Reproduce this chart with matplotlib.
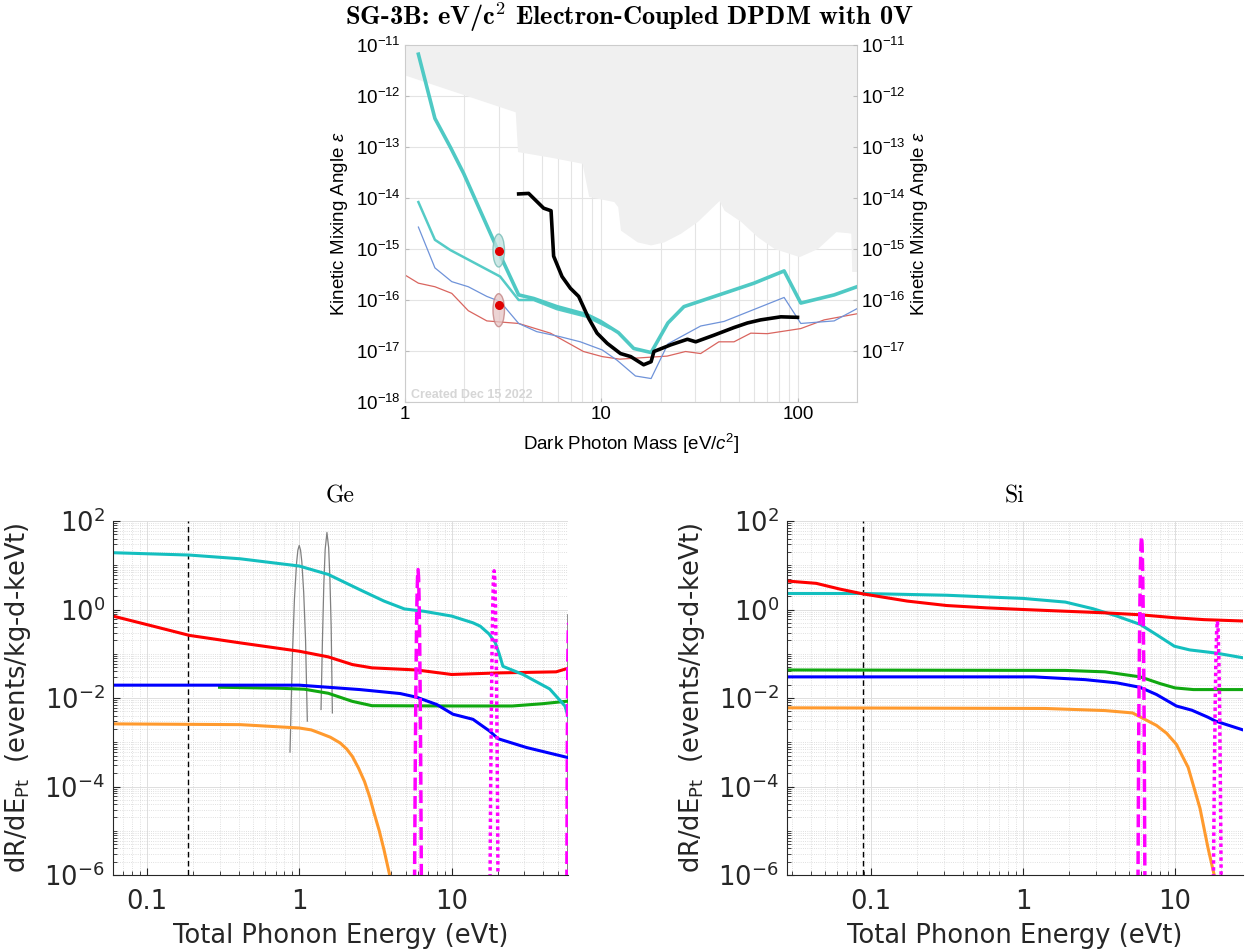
import numpy as np
import matplotlib
matplotlib.use("Agg")
import matplotlib.pyplot as plt
from matplotlib import ticker, transforms
from matplotlib.patches import Ellipse

plt.rcParams['mathtext.fontset'] = 'dejavusans'
plt.rcParams['mathtext.rm'] = 'Liberation Sans'
plt.rcParams['mathtext.it'] = 'Liberation Sans:italic'
plt.rcParams['mathtext.bf'] = 'Liberation Sans:bold'

# ---------------- top panel: limits on kinetic mixing (log10 of epsilon) ----------------
excl_mass = [1.0, 3.64, 3.74, 5.5, 7.97, 8.61, 11.56, 12.1, 12.5, 15.2, 17.8, 20.8, 25.3, 30.8,
             39.7, 42.1, 51.2, 62.2, 75.7, 101.6, 125.9, 156, 179, 186, 188, 201]
excl_log = [-11.59, -12.31, -13.09, -13.2, -13.32, -13.97, -14.07, -14.17, -14.63, -14.86, -14.92,
            -14.86, -14.69, -14.46, -14.05, -14.24, -14.46, -14.76, -14.99, -15.15, -14.99, -14.66,
            -14.68, -14.69, -15.44, -15.44]

teal_mass = [1.17, 1.42, 1.70, 1.99, 2.41, 3.0, 3.79, 4.52, 5.94, 8.45, 9.9, 12.2, 14.6, 17.9,
             21.8, 26.3, 35, 45, 59.8, 85.1, 103.5, 153, 200]
teal_log = [-11.18, -12.44, -13.0, -13.52, -14.24, -15.06, -15.9, -15.97, -16.13, -16.29, -16.42,
            -16.64, -16.95, -17.03, -16.45, -16.13, -15.97, -15.83, -15.67, -15.43, -16.06, -15.9, -15.74]

teal2_mass = [1.17, 1.42, 1.70, 3.05, 3.79, 4.52, 5.94, 8.45, 11.0]
teal2_log = [-14.08, -14.82, -15.02, -15.54, -16.0, -16.0, -16.18, -16.33, -16.55]

blue_mass = [1.17, 1.42, 1.73, 2.10, 2.61, 3.05, 3.79, 4.68, 6.17, 7.81, 10.1, 12.0, 14.9, 17.9,
             21.8, 32.0, 42.1, 85.1, 103.5, 153, 200]
blue_log = [-14.57, -15.37, -15.64, -15.74, -15.93, -16.03, -16.46, -16.62, -16.72, -16.82, -16.98,
            -17.18, -17.49, -17.54, -16.86, -16.51, -16.42, -15.95, -16.46, -16.41, -16.17]

red_mass = [1.0, 1.17, 1.42, 1.73, 2.10, 2.61, 3.79, 5.5, 8.1, 10.1, 12.4, 21.6, 26.8, 32, 39.6,
            47.3, 57.6, 70, 103.5, 136, 200]
red_log = [-15.51, -15.67, -15.74, -15.87, -16.21, -16.41, -16.46, -16.65, -17.01, -17.11, -17.16,
           -17.10, -17.01, -17.05, -16.82, -16.82, -16.65, -16.66, -16.56, -16.39, -16.27]

black_mass = [3.79, 4.26, 5.08, 5.54, 5.71, 6.3, 6.95, 7.66, 8.61, 9.5, 10.7, 12.5, 14.1, 16.4,
              17.9, 18.5, 22.5, 27.4, 30.2, 37.4, 47.3, 55.4, 64.6, 81.9, 99.6]
black_log = [-13.92, -13.91, -14.2, -14.25, -15.14, -15.54, -15.77, -15.93, -16.36, -16.65, -16.85,
             -17.05, -17.11, -17.27, -17.21, -17.01, -16.88, -16.77, -16.82, -16.69, -16.54, -16.45,
             -16.39, -16.33, -16.34]

dot_mass = [3.0, 3.0]
dot_log = [-15.03, -16.1]
ellipse_log = [-15.03, -16.2]

top_ticks = [1e-18, 1e-17, 1e-16, 1e-15, 1e-14, 1e-13, 1e-12, 1e-11]
top_ticklabels = [r'$10^{-18}$', r'$10^{-17}$', r'$10^{-16}$', r'$10^{-15}$',
                  r'$10^{-14}$', r'$10^{-13}$', r'$10^{-12}$', r'$10^{-11}$']

# ---------------- bottom panels: rate spectra ----------------
ge_cyan_x = [0.06, 0.19, 0.41, 1.0, 1.55, 2.5, 3.6, 4.9, 6.6, 10, 13.8, 15.4, 17.6, 19.3, 20.5,
             21.7, 29.4, 44, 55.4, 58]
ge_cyan_y = [19.2, 17, 14, 9.6, 6.2, 2.8, 1.55, 1.03, 0.91, 0.71, 0.5, 0.42, 0.28, 0.18, 0.1,
             0.052, 0.034, 0.016, 0.0066, 0.0039]
ge_red_x = [0.06, 0.11, 0.19, 0.41, 1.0, 1.55, 2.23, 3.0, 5.9, 10, 21, 48.5, 58]
ge_red_y = [0.71, 0.42, 0.26, 0.176, 0.114, 0.085, 0.057, 0.048, 0.043, 0.034, 0.037, 0.039, 0.047]
ge_blue_x = [0.06, 1.0, 2.5, 4.6, 5.9, 8.0, 10.2, 13.8, 17.7, 20.2, 31, 58]
ge_blue_y = [0.0195, 0.0195, 0.0155, 0.0126, 0.0104, 0.0071, 0.0043, 0.0033, 0.0018, 0.0012,
             0.00076, 0.00045]
ge_green_x = [0.3, 0.75, 1.08, 1.55, 2.23, 3.0, 10, 25, 39, 58]
ge_green_y = [0.0175, 0.0166, 0.0158, 0.0128, 0.0084, 0.0067, 0.0066, 0.0066, 0.0074, 0.0085]
ge_orange_x = [0.06, 0.41, 1.0, 1.2, 1.37, 1.6, 1.86, 2.05, 2.23, 2.45, 2.68, 2.9, 3.1, 3.35,
               3.6, 3.92, 4.1]
ge_orange_y = [0.0026, 0.0025, 0.0021, 0.0019, 0.0016, 0.0013, 0.00096, 0.0007, 4.8e-4, 2.6e-4,
               1.3e-4, 5.8e-5, 2.5e-5, 1e-5, 3.7e-6, 1e-6, 6e-7]
ge_gray1_x = [0.87, 0.90, 0.93, 0.96, 0.98, 1.0, 1.02, 1.04, 1.07, 1.10, 1.13]
ge_gray1_y = [6e-4, 0.072, 1.7, 11, 22, 28, 22, 12, 2.4, 0.21, 0.003]
ge_gray2_x = [1.39, 1.42, 1.45, 1.48, 1.52, 1.56, 1.59, 1.62, 1.65]
ge_gray2_y = [0.0055, 0.2, 3.7, 23, 55, 25, 4.8, 0.42, 0.0046]
ge_gray3_x = [57.7, 57.8]
ge_gray3_y = [1e-7, 0.76]
ge_dash_x = [5.69, 5.77, 5.82, 5.87, 5.92, 5.97, 6.02, 6.07, 6.12, 6.17, 6.22, 6.27, 6.35]
ge_dash_y = [1e-7, 2.6e-4, 0.0105, 0.19, 1.5, 5.2, 8, 5.2, 1.5, 0.19, 0.0105, 2.6e-4, 1e-7]
ge_dot_x = [17.8, 18.0, 18.2, 18.4, 18.6, 18.8, 19.0, 19.2, 19.4, 19.6, 19.8, 20.0, 20.2]
ge_dot_y = [1e-7, 4.8e-5, 0.0036, 0.105, 1.16, 4.9, 7.5, 4.9, 1.16, 0.105, 0.0036, 4.8e-5, 1e-7]
ge_edge_x = [56.9, 57.4, 57.8, 58.2, 58.6]
ge_edge_y = [1e-7, 1e-3, 0.06, 0.33, 0.5]
ge_threshold = 0.186

si_red_x = [0.028, 0.0436, 0.0622, 0.088, 0.173, 0.314, 0.573, 1.0, 3.46, 5.9, 10, 15.5, 28]
si_red_y = [4.4, 3.9, 2.9, 2.26, 1.55, 1.23, 1.09, 1.0, 0.84, 0.76, 0.65, 0.59, 0.55]
si_cyan_x = [0.028, 0.088, 0.314, 1.0, 1.9, 2.89, 4.14, 5.9, 7.55, 9.9, 12.5, 18.5, 28]
si_cyan_y = [2.3, 2.3, 2.1, 1.78, 1.47, 1.04, 0.71, 0.46, 0.27, 0.148, 0.122, 0.104, 0.081]
si_green_x = [0.028, 1.9, 3.46, 5.9, 8.0, 10, 13.2, 28]
si_green_y = [0.043, 0.042, 0.039, 0.030, 0.0211, 0.0169, 0.0155, 0.0155]
si_blue_x = [0.028, 1.18, 2.56, 4.14, 5.9, 7.55, 10.2, 12.9, 16.4, 18.5, 28]
si_blue_y = [0.030, 0.030, 0.026, 0.022, 0.0174, 0.012, 0.0066, 0.0053, 0.0037, 0.003, 0.0019]
si_orange_x = [0.028, 1.4, 3.46, 5.25, 7.55, 8.8, 10.2, 12.2, 14.6, 16.5, 18.1, 18.5]
si_orange_y = [0.006, 0.0058, 0.0052, 0.0046, 0.0024, 0.0016, 9e-4, 2.7e-4, 3.2e-5, 4e-6, 1e-6, 5e-7]
si_dash_x = [5.69, 5.77, 5.82, 5.87, 5.92, 5.97, 6.02, 6.07, 6.12, 6.17, 6.22, 6.27, 6.35]
si_dash_y = [1e-7, 0.0018, 0.069, 1.17, 8.9, 30, 45, 30, 8.9, 1.17, 0.069, 0.0018, 1e-7]
si_dot_x = [17.8, 18.0, 18.2, 18.4, 18.6, 18.8, 19.0, 19.2, 19.4, 19.6, 19.8, 20.0, 20.2]
si_dot_y = [1e-7, 1e-5, 5e-4, 0.011, 0.096, 0.35, 0.55, 0.35, 0.096, 0.011, 5e-4, 1e-5, 1e-7]
si_threshold = 0.089

fig = plt.figure(figsize=(12.52, 9.51), dpi=100)

fig.text(0.503, 1 - 17 / 951, r'SG-3B: eV/c$^{\mathbf{2}}$ Electron-Coupled DPDM with 0V',
         ha='center', va='center', fontsize=19, family=['cmb10', 'DejaVu Serif'],
         math_fontfamily='cm')

# ---- top axes ----
ax = fig.add_axes([405 / 1252, 1 - 402 / 951, 452 / 1252, 357 / 951])
ax.set_xscale('log')
ax.set_yscale('log')
ax.set_xlim(1, 200)
ax.set_ylim(1e-18, 1e-11)
ax.set_axisbelow(True)

ax.fill_between(excl_mass, 10.0 ** np.array(excl_log), 1e-11, color='#f0f0f0', lw=0, zorder=1)
ax.plot(red_mass, 10.0 ** np.array(red_log), color='#d9655f', lw=0.9, zorder=2)
ax.plot(blue_mass, 10.0 ** np.array(blue_log), color='#6f93d9', lw=0.9, zorder=2)
ax.plot(teal2_mass, 10.0 ** np.array(teal2_log), color='#55cbc6', lw=1.8, zorder=2)
ax.plot(teal_mass, 10.0 ** np.array(teal_log), color='#4fc9c4', lw=2.6, zorder=2)
ax.plot(black_mass, 10.0 ** np.array(black_log), color='black', lw=2.6, zorder=3)

for ylog, fc, ec in zip(ellipse_log, ['#bfe2df', '#e6c6c6'], ['#6fb8b2', '#c07d7d']):
    tr = fig.dpi_scale_trans + transforms.ScaledTranslation(dot_mass[0], 10.0 ** ylog, ax.transData)
    ax.add_patch(Ellipse((0, 0), 0.115, 0.33, transform=tr, facecolor=fc, edgecolor=ec,
                         lw=1.0, alpha=0.75, zorder=4))
ax.plot(dot_mass, 10.0 ** np.array(dot_log), 'o', color='#e00000', ms=5.5, zorder=5)

ax.text(0.013, 0.012, 'Created Dec 15 2022', transform=ax.transAxes, fontsize=9,
        color='#d6d6d6', fontweight='bold', family='Liberation Sans', zorder=6)

ax.grid(which='major', color='#e4e4e4', lw=0.8)
ax.xaxis.set_minor_locator(ticker.LogLocator(base=10, subs=np.arange(2, 10), numticks=20))
ax.yaxis.set_minor_locator(ticker.NullLocator())
ax.grid(which='minor', axis='x', color='#e4e4e4', lw=0.8)
ax.set_xticks([1, 10, 100], ['1', '10', '100'], fontsize=13.5, family='Liberation Sans')
ax.xaxis.set_minor_formatter(ticker.NullFormatter())
ax.set_yticks(top_ticks, top_ticklabels, fontsize=13.5, math_fontfamily='custom')
ax.tick_params(which='both', direction='in', color='#bbbbbb', length=3, pad=3, top=True)
ax.tick_params(which='minor', length=0)
for s in ax.spines.values():
    s.set_color('#cccccc')
    s.set_linewidth(0.8)
ax.set_xlabel(r'Dark Photon Mass [eV/$c^2$]', fontsize=13.5, family='Liberation Sans',
              math_fontfamily='custom', labelpad=6)
ax.set_ylabel(r'Kinetic Mixing Angle $\varepsilon$', fontsize=13.5, family='Liberation Sans',
              math_fontfamily='custom', labelpad=4)

axr = ax.twinx()
axr.set_yscale('log')
axr.set_ylim(1e-18, 1e-11)
axr.set_yticks(top_ticks[1:], top_ticklabels[1:], fontsize=13.5, math_fontfamily='custom')
axr.yaxis.set_minor_locator(ticker.NullLocator())
axr.tick_params(which='both', direction='in', color='#bbbbbb', length=3, pad=3)
for s in axr.spines.values():
    s.set_visible(False)
axr.set_ylabel(r'Kinetic Mixing Angle $\varepsilon$', fontsize=13.5, family='Liberation Sans',
               math_fontfamily='custom', labelpad=2)


# ---- bottom axes ----
def rate_axes(left, right, title, xlim, threshold):
    a = fig.add_axes([left / 1252, 1 - 875 / 951, (right - left) / 1252, 354 / 951])
    a.set_xscale('log')
    a.set_yscale('log')
    a.set_xlim(xlim)
    a.set_ylim(1e-6, 1e2)
    a.set_axisbelow(True)
    a.grid(which='major', color='#dedede', lw=0.7)
    a.grid(which='minor', color='#d6d6d6', lw=0.6, ls=':')
    a.xaxis.set_major_locator(ticker.FixedLocator([0.1, 1, 10]))
    a.xaxis.set_major_formatter(ticker.FixedFormatter(['0.1', '1', '10']))
    a.xaxis.set_minor_locator(ticker.LogLocator(base=10, subs=np.arange(2, 10), numticks=20))
    a.xaxis.set_minor_formatter(ticker.NullFormatter())
    a.yaxis.set_major_locator(ticker.FixedLocator([1e-6, 1e-4, 1e-2, 1, 1e2]))
    a.yaxis.set_major_formatter(ticker.FixedFormatter(
        [r'$10^{-6}$', r'$10^{-4}$', r'$10^{-2}$', r'$10^{0}$', r'$10^{2}$']))
    a.yaxis.set_minor_locator(ticker.LogLocator(base=10, subs=np.arange(1, 10), numticks=40))
    a.yaxis.set_minor_formatter(ticker.NullFormatter())
    a.tick_params(which='both', direction='in', colors='#262626', labelsize=18.5)
    a.tick_params(axis='x', pad=10)
    a.tick_params(axis='y', pad=6)
    a.tick_params(which='major', length=5, width=0.8)
    a.tick_params(which='minor', length=3, width=0.6)
    a.spines['top'].set_visible(False)
    a.spines['right'].set_visible(False)
    a.spines['left'].set_color('#262626')
    a.spines['bottom'].set_color('#262626')
    a.set_title(title, fontsize=17, family=['cmr10', 'DejaVu Serif'], pad=13)
    a.set_xlabel('Total Phonon Energy (eVt)', fontsize=18.5, color='#262626', labelpad=6)
    a.set_ylabel(r'dR/dE$_{\rm Pt}$  (events/kg-d-keVt)', fontsize=18.5, color='#262626',
                 labelpad=8)
    a.axvline(threshold, color='black', ls='--', lw=1.0, dashes=(4, 2.5))
    return a


ge = rate_axes(113, 568, 'Ge', (0.06, 58), ge_threshold)
ge.plot(ge_gray1_x, ge_gray1_y, color='#808080', lw=0.9)
ge.plot(ge_gray2_x, ge_gray2_y, color='#808080', lw=0.9)
ge.plot(ge_gray3_x, ge_gray3_y, color='#808080', lw=0.9)
ge.plot(ge_orange_x, ge_orange_y, color='#ff9a2e', lw=2.2)
ge.plot(ge_green_x, ge_green_y, color='#11a811', lw=2.2)
ge.plot(ge_blue_x, ge_blue_y, color='#0000ff', lw=2.2)
ge.plot(ge_red_x, ge_red_y, color='#ff0000', lw=2.2)
ge.plot(ge_cyan_x, ge_cyan_y, color='#14bfbf', lw=2.2)
ge.plot(ge_dash_x, ge_dash_y, color='#ff00ff', lw=2.5, ls='--')
ge.plot(ge_dot_x, ge_dot_y, color='#ff00ff', lw=2.5, ls=(0, (1, 1)))
ge.plot(ge_edge_x, ge_edge_y, color='#ff00ff', lw=2.5, ls='--')

si = rate_axes(787, 1243, 'Si', (0.028, 28), si_threshold)
si.plot(si_orange_x, si_orange_y, color='#ff9a2e', lw=2.2)
si.plot(si_green_x, si_green_y, color='#11a811', lw=2.2)
si.plot(si_blue_x, si_blue_y, color='#0000ff', lw=2.2)
si.plot(si_cyan_x, si_cyan_y, color='#14bfbf', lw=2.2)
si.plot(si_red_x, si_red_y, color='#ff0000', lw=2.2)
si.plot(si_dash_x, si_dash_y, color='#ff00ff', lw=2.5, ls='--')
si.plot(si_dot_x, si_dot_y, color='#ff00ff', lw=2.5, ls=(0, (1, 1)))

fig.savefig('out.png', dpi=100)
